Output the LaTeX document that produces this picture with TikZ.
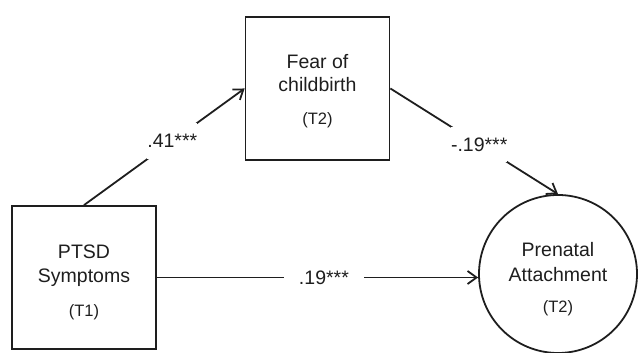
\documentclass[tikz,border=0pt]{standalone}
\usepackage{fontspec}
\setmainfont{Liberation Sans}
\usetikzlibrary{arrows.meta}
\definecolor{ink}{RGB}{30,30,30}
\begin{document}
\begin{tikzpicture}[x=1pt,y=1pt,
  sqbox/.style={draw=ink, line width=1.8pt, minimum width=144pt, minimum height=143pt, inner sep=0pt},
  circ/.style={draw=ink, circle, line width=1.8pt, minimum size=158pt, inner sep=0pt},
  big/.style={anchor=base, inner sep=0pt, text=ink, font=\fontsize{19.5}{23}\selectfont},
  small/.style={anchor=base, inner sep=0pt, text=ink, font=\fontsize{16.5}{20}\selectfont},
  conn/.style={draw=ink, line width=1.8pt, -{Straight Barb[length=9pt,width=13pt,line width=1.8pt]}},
  diaglab/.style={fill=white, text=ink, inner xsep=0pt, inner ysep=11pt, font=\fontsize{19.5}{23}\selectfont},
  horlab/.style={fill=white, text=ink, inner xsep=15pt, inner ysep=4pt, font=\fontsize{19.5}{23}\selectfont}
]
\useasboundingbox (0,0) rectangle (638,353);

\node[sqbox] (ptsd) at (84,75.5) {};
\node[sqbox] (fear) at (317.5,264.5) {};
\node[circ] (pa) at (558,79) {};

\node[big] (ptsd1) at ([yshift=18.5pt]ptsd.center) {PTSD};
\node[big] (ptsd2) at ([yshift=-5.5pt]ptsd.center) {Symptoms};
\node[small] (ptsd3) at ([yshift=-39.5pt]ptsd.center) {(T1)};

\node[big] (fear1) at ([yshift=19.5pt]fear.center) {Fear of};
\node[big] (fear2) at ([yshift=-3.5pt]fear.center) {childbirth};
\node[small] (fear3) at ([yshift=-36.5pt]fear.center) {(T2)};

\node[big] (pa1) at ([yshift=17pt]pa.center) {Prenatal};
\node[big] (pa2) at ([yshift=-8pt]pa.center) {Attachment};
\node[small] (pa3) at ([yshift=-39pt]pa.center) {(T2)};

\draw[conn] (ptsd.north) -- node[diaglab, pos=0.55] (l1) {.41***} (fear.west);
\draw[conn] (fear.east) -- node[diaglab, pos=0.53] (l2) {-.19***} (pa.north);
\draw[conn] (ptsd.east) -- node[horlab, pos=0.52] (l3) {.19***} (ptsd.east -| pa.west);
\end{tikzpicture}
\end{document}
